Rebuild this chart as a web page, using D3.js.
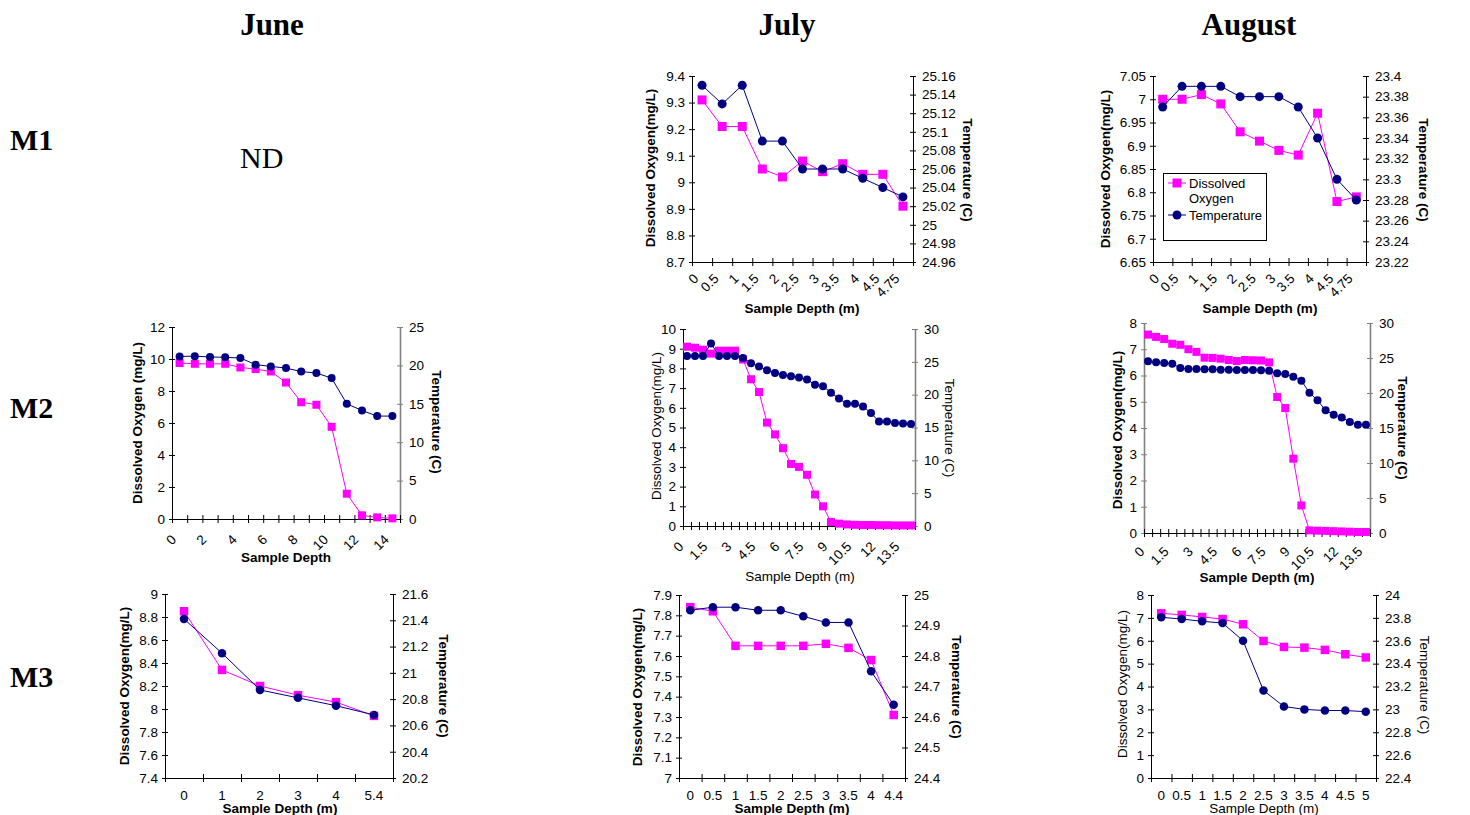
<!DOCTYPE html>
<html><head><meta charset="utf-8">
<script src="https://cdn.jsdelivr.net/npm/d3@7"></script>
<style>
body{margin:0;background:#fff;}
svg{display:block;}
text{font-family:"Liberation Sans",Arial,sans-serif;fill:#000;}
.hdr{font-family:"Liberation Serif","Times New Roman",serif;}
</style></head><body>
<svg id="c" width="1470" height="815"></svg>
<script>
// ---------- DATA ----------
const columnNames = ["June", "July", "August"];
const rowNames = ["M1", "M2", "M3"];

// July M1
const julyM1Depths = ["0","0.5","1","1.5","2","2.5","3","3.5","4","4.5","4.75"];
const julyM1DO = [9.31, 9.21, 9.21, 9.05, 9.02, 9.08, 9.04, 9.07, 9.03, 9.03, 8.91];
const julyM1Temp = [25.15, 25.13, 25.15, 25.09, 25.09, 25.06, 25.06, 25.06, 25.05, 25.04, 25.03];
const julyM1DOTicks = [8.7, 8.8, 8.9, 9, 9.1, 9.2, 9.3, 9.4];
const julyM1TempTicks = [24.96, 24.98, 25, 25.02, 25.04, 25.06, 25.08, 25.1, 25.12, 25.14, 25.16];

// August M1
const augM1Depths = ["0","0.5","1","1.5","2","2.5","3","3.5","4","4.5","4.75"];
const augM1DO = [7.00, 7.00, 7.01, 6.99, 6.93, 6.91, 6.89, 6.88, 6.97, 6.78, 6.79];
const augM1Temp = [23.37, 23.39, 23.39, 23.39, 23.38, 23.38, 23.38, 23.37, 23.34, 23.30, 23.28];
const augM1DOTicks = [6.65, 6.7, 6.75, 6.8, 6.85, 6.9, 6.95, 7, 7.05];
const augM1TempTicks = [23.22, 23.24, 23.26, 23.28, 23.3, 23.32, 23.34, 23.36, 23.38, 23.4];

// June M2
const juneM2Depths = ["0","1","2","3","4","5","6","7","8","9","10","11","12","13","14"];
const juneM2Shown = ["0","2","4","6","8","10","12","14"];
const juneM2DO = [9.75, 9.7, 9.7, 9.7, 9.47, 9.37, 9.22, 8.53, 7.30, 7.14, 5.76, 1.58, 0.23, 0.1, 0.04];
const juneM2Temp = [21.17, 21.2, 21.1, 21.05, 20.96, 20.1, 19.87, 19.65, 19.2, 19.0, 18.35, 15.0, 14.13, 13.4, 13.4];
const juneM2DOTicks = [0, 2, 4, 6, 8, 10, 12];
const juneM2TempTicks = [0, 5, 10, 15, 20, 25];

// July M2
const julyM2Depths = ["0","0.5","1","1.5","2","2.5","3","3.5","4","4.5","5","5.5","6","6.5","7","7.5","8","8.5","9","9.5","10","10.5","11","11.5","12","12.5","13","13.5","14"];
const julyM2Shown = ["0","1.5","3","4.5","6","7.5","9","10.5","12","13.5"];
const julyM2DO = [9.1, 9.05, 8.95, 8.75, 8.9, 8.9, 8.9, 8.45, 7.45, 6.8, 5.25, 4.65, 3.95, 3.15, 3.0, 2.6, 1.6, 1.0, 0.2, 0.12, 0.08, 0.06, 0.05, 0.05, 0.04, 0.04, 0.03, 0.03, 0.03];
const julyM2Temp = [25.9, 25.9, 25.9, 27.8, 25.9, 25.9, 25.9, 25.6, 24.8, 24.3, 23.7, 23.3, 23.0, 22.8, 22.6, 22.3, 21.5, 21.3, 20.3, 19.4, 18.6, 18.6, 18.2, 17.2, 15.9, 15.9, 15.7, 15.6, 15.55];
const julyM2DOTicks = [0, 1, 2, 3, 4, 5, 6, 7, 8, 9, 10];
const julyM2TempTicks = [0, 5, 10, 15, 20, 25, 30];

// August M2
const augM2Depths = ["0","0.5","1","1.5","2","2.5","3","3.5","4","4.5","5","5.5","6","6.5","7","7.5","8","8.5","9","9.5","10","10.5","11","11.5","12","12.5","13","13.5"];
const augM2Shown = ["0","1.5","3","4.5","6","7.5","9","10.5","12","13.5"];
const augM2DO = [7.56, 7.47, 7.39, 7.21, 7.17, 7.0, 6.9, 6.68, 6.67, 6.64, 6.59, 6.55, 6.59, 6.58, 6.57, 6.5, 5.18, 4.76, 2.83, 1.05, 0.1, 0.09, 0.08, 0.07, 0.06, 0.05, 0.04, 0.04];
const augM2Temp = [24.52, 24.38, 24.29, 24.19, 23.57, 23.43, 23.43, 23.38, 23.38, 23.33, 23.33, 23.29, 23.29, 23.29, 23.24, 23.19, 22.81, 22.71, 22.33, 21.76, 20.05, 18.95, 17.52, 16.9, 16.5, 15.86, 15.48, 15.48];
const augM2DOTicks = [0, 1, 2, 3, 4, 5, 6, 7, 8];
const augM2TempTicks = [0, 5, 10, 15, 20, 25, 30];

// June M3
const juneM3Depths = ["0","1","2","3","4","5.4"];
const juneM3DO = [8.85, 8.34, 8.2, 8.12, 8.06, 7.94];
const juneM3Temp = [21.41, 21.15, 20.87, 20.81, 20.75, 20.68];
const juneM3DOTicks = [7.4, 7.6, 7.8, 8, 8.2, 8.4, 8.6, 8.8, 9];
const juneM3TempTicks = [20.2, 20.4, 20.6, 20.8, 21, 21.2, 21.4, 21.6];

// July M3
const julyM3Depths = ["0","0.5","1","1.5","2","2.5","3","3.5","4","4.4"];
const julyM3DO = [7.84, 7.82, 7.65, 7.65, 7.65, 7.65, 7.66, 7.64, 7.58, 7.31];
const julyM3Temp = [24.95, 24.96, 24.96, 24.95, 24.95, 24.93, 24.91, 24.91, 24.75, 24.64];
const julyM3DOTicks = [7, 7.1, 7.2, 7.3, 7.4, 7.5, 7.6, 7.7, 7.8, 7.9];
const julyM3TempTicks = [24.4, 24.5, 24.6, 24.7, 24.8, 24.9, 25];

// August M3
const augM3Depths = ["0","0.5","1","1.5","2","2.5","3","3.5","4","4.5","5"];
const augM3DO = [7.2, 7.13, 7.04, 6.95, 6.72, 5.99, 5.73, 5.70, 5.6, 5.41, 5.27];
const augM3Temp = [23.805, 23.79, 23.77, 23.755, 23.6, 23.165, 23.025, 23.0, 22.99, 22.99, 22.98];
const augM3DOTicks = [0, 1, 2, 3, 4, 5, 6, 7, 8];
const augM3TempTicks = [22.4, 22.6, 22.8, 23, 23.2, 23.4, 23.6, 23.8, 24];

const legendLabels = [["Dissolved", "Oxygen"], ["Temperature"]];
const ndText = "ND";

// ---------- STYLE / LAYOUT ----------
const DO_COLOR = "#FF00FF", T_COLOR = "#000080";
const TICK_FS = 13.5;
const svg = d3.select("#c");

const panels = [
  {cats: julyM1Depths, shown: julyM1Depths, dox: julyM1DO, tmp: julyM1Temp, lTicks: julyM1DOTicks, rTicks: julyM1TempTicks,
   box: [692, 76, 913, 262], rot: true, labOff: 14, bold: true, lTitle: "Dissolved Oxygen(mg/L)", lt: [650, 168], rt: [968, 170], xt: [802, 313], xTitle: "Sample Depth (m)", lCol: "#000", rCol: "#000", ms: 9, legend: false},
  {cats: augM1Depths, shown: augM1Depths, dox: augM1DO, tmp: augM1Temp, lTicks: augM1DOTicks, rTicks: augM1TempTicks,
   box: [1153, 76, 1366, 262], rot: true, labOff: 14, bold: true, lTitle: "Dissolved Oxygen(mg/L)", lt: [1105, 169], rt: [1424, 170], xt: [1260, 313], xTitle: "Sample Depth (m)", lCol: "#000", rCol: "#000", ms: 9, legend: true},
  {cats: juneM2Depths, shown: juneM2Shown, dox: juneM2DO, tmp: juneM2Temp, lTicks: juneM2DOTicks, rTicks: juneM2TempTicks,
   box: [172, 327, 400, 519], rot: true, labOff: 18, bold: true, lTitle: "Dissolved Oxygen (mg/L)", lt: [137, 423], rt: [437, 422], xt: [286, 562], xTitle: "Sample Depth", lCol: "#000", rCol: "#808080", ms: 8, legend: false},
  {cats: julyM2Depths, shown: julyM2Shown, dox: julyM2DO, tmp: julyM2Temp, lTicks: julyM2DOTicks, rTicks: julyM2TempTicks,
   box: [683, 329, 915, 526], rot: true, labOff: 18, bold: false, lTitle: "Dissolved Oxygen(mg/L)", lt: [656, 426], rt: [950, 428], xt: [800, 581], xTitle: "Sample Depth (m)", lCol: "#000", rCol: "#808080", ms: 8, legend: false},
  {cats: augM2Depths, shown: augM2Shown, dox: augM2DO, tmp: augM2Temp, lTicks: augM2DOTicks, rTicks: augM2TempTicks,
   box: [1144, 323, 1370, 533], rot: true, labOff: 16, bold: true, lTitle: "Dissolved Oxygen(mg/L)", lt: [1117, 430], rt: [1403, 428], xt: [1257, 582], xTitle: "Sample Depth (m)", lCol: "#808080", rCol: "#808080", ms: 8, legend: false},
  {cats: juneM3Depths, shown: juneM3Depths, dox: juneM3DO, tmp: juneM3Temp, lTicks: juneM3DOTicks, rTicks: juneM3TempTicks,
   box: [165, 594, 393, 778], rot: false, labOff: 17, bold: true, lTitle: "Dissolved Oxygen(mg/L)", lt: [124, 686], rt: [444, 686], xt: [280, 813], xTitle: "Sample Depth (m)", lCol: "#000", rCol: "#000", ms: 8.5, legend: false},
  {cats: julyM3Depths, shown: julyM3Depths, dox: julyM3DO, tmp: julyM3Temp, lTicks: julyM3DOTicks, rTicks: julyM3TempTicks,
   box: [679, 595, 905, 778], rot: false, labOff: 17, bold: true, lTitle: "Dissolved Oxygen(mg/L)", lt: [637, 687], rt: [957, 687], xt: [792, 813], xTitle: "Sample Depth (m)", lCol: "#000", rCol: "#000", ms: 8.5, legend: false},
  {cats: augM3Depths, shown: augM3Depths, dox: augM3DO, tmp: augM3Temp, lTicks: augM3DOTicks, rTicks: augM3TempTicks,
   box: [1151, 595, 1376, 778], rot: false, labOff: 17, bold: false, lTitle: "Dissolved Oxygen(mg/L)", lt: [1122, 684], rt: [1425, 685], xt: [1264, 813], xTitle: "Sample Depth (m)", lCol: "#000", rCol: "#000", ms: 8.5, legend: false}
];

const fmt = d3.format("~g");

panels.forEach(p => {
  const [x0, y0, x1, y1] = p.box;
  const g = svg.append("g");
  const n = p.cats.length;
  const xBand = d3.scaleBand().domain(p.cats).range([x0, x1]).padding(0);
  const xEdge = d3.scaleLinear().domain([0, n]).range([x0, x1]);
  const yL = d3.scaleLinear().domain(d3.extent(p.lTicks)).range([y1, y0]);
  const yR = d3.scaleLinear().domain(d3.extent(p.rTicks)).range([y1, y0]);
  const cx = i => xBand(p.cats[i]) + xBand.bandwidth() / 2;
  const fw = p.bold ? "bold" : "normal";

  // left axis
  const la = g.append("g").attr("transform", `translate(${x0},0)`)
    .call(d3.axisLeft(yL).tickValues(p.lTicks).tickFormat(fmt).tickSizeInner(3).tickSizeOuter(0).tickPadding(4));
  la.selectAll("line").attr("x1", 3).attr("stroke", p.lCol);
  la.select(".domain").attr("stroke", p.lCol).attr("stroke-width", p.lCol === "#000" ? 1 : 1.6);
  la.selectAll("text").attr("font-size", TICK_FS).attr("font-family", "'Liberation Sans',Arial,sans-serif").attr("fill", "#000");

  // right axis
  const ra = g.append("g").attr("transform", `translate(${x1},0)`)
    .call(d3.axisRight(yR).tickValues(p.rTicks).tickFormat(fmt).tickSizeInner(3).tickSizeOuter(0).tickPadding(6));
  ra.selectAll("line").attr("x1", -3).attr("stroke", p.rCol);
  ra.select(".domain").attr("stroke", p.rCol).attr("stroke-width", p.rCol === "#000" ? 1 : 1.6);
  ra.selectAll("text").attr("font-size", TICK_FS).attr("font-family", "'Liberation Sans',Arial,sans-serif").attr("fill", "#000");

  // bottom axis (tick marks at category boundaries)
  const ba = g.append("g").attr("transform", `translate(0,${y1})`)
    .call(d3.axisBottom(xEdge).tickValues(d3.range(n + 1)).tickFormat("").tickSizeInner(4).tickSizeOuter(0));
  ba.selectAll("line").attr("y1", -4).attr("stroke", "#000");
  ba.select(".domain").attr("stroke", "#000");

  // category labels
  const lab = g.append("g").attr("transform", `translate(0,${y1})`)
    .call(d3.axisBottom(xBand).tickValues(p.shown).tickSize(0));
  lab.select(".domain").remove();
  const lt = lab.selectAll("text").attr("font-size", TICK_FS).attr("font-family", "'Liberation Sans',Arial,sans-serif").attr("fill", "#000");
  if (p.rot) {
    lt.attr("y", 0).attr("dy", "0.35em").attr("text-anchor", "end")
      .attr("transform", `translate(-6,${p.labOff}) rotate(-45)`);
  } else {
    lt.attr("y", p.labOff).attr("dy", "0.35em");
  }

  // series: DO first, temperature on top
  const lineDO = d3.line().x((d, i) => cx(i)).y(d => yL(d));
  const lineT = d3.line().x((d, i) => cx(i)).y(d => yR(d));
  g.append("path").datum(p.dox).attr("d", lineDO).attr("fill", "none").attr("stroke", DO_COLOR).attr("stroke-width", 1);
  g.selectAll(".sq").data(p.dox).enter().append("rect")
    .attr("x", (d, i) => cx(i) - p.ms / 2).attr("y", d => yL(d) - p.ms / 2)
    .attr("width", p.ms).attr("height", p.ms).attr("fill", DO_COLOR);
  g.append("path").datum(p.tmp).attr("d", lineT).attr("fill", "none").attr("stroke", T_COLOR).attr("stroke-width", 1);
  g.selectAll(".ci").data(p.tmp).enter().append("circle")
    .attr("cx", (d, i) => cx(i)).attr("cy", d => yR(d)).attr("r", p.ms / 2).attr("fill", T_COLOR);

  // titles
  g.append("text").attr("transform", `translate(${p.lt[0]},${p.lt[1]}) rotate(-90)`)
    .attr("text-anchor", "middle").attr("dy", "0.35em").attr("font-size", 13.5).attr("font-weight", fw).text(p.lTitle);
  g.append("text").attr("transform", `translate(${p.rt[0]},${p.rt[1]}) rotate(90)`)
    .attr("text-anchor", "middle").attr("dy", "0.35em").attr("font-size", 13.5).attr("font-weight", fw).text("Temperature (C)");
  g.append("text").attr("x", p.xt[0]).attr("y", p.xt[1])
    .attr("text-anchor", "middle").attr("font-size", 13.5).attr("font-weight", fw).text(p.xTitle);

  if (p.legend) {
    const lg = g.append("g");
    lg.append("rect").attr("x", 1163.5).attr("y", 173.5).attr("width", 103).attr("height", 67)
      .attr("fill", "#fff").attr("stroke", "#000").attr("stroke-width", 1);
    lg.append("line").attr("x1", 1168).attr("x2", 1186).attr("y1", 183).attr("y2", 183).attr("stroke", DO_COLOR);
    lg.append("rect").attr("x", 1177 - 4.5).attr("y", 183 - 4.5).attr("width", 9).attr("height", 9).attr("fill", DO_COLOR);
    lg.append("text").attr("x", 1189).attr("y", 183).attr("dy", "0.35em").attr("font-size", 13).text(legendLabels[0][0]);
    lg.append("text").attr("x", 1189).attr("y", 198).attr("dy", "0.35em").attr("font-size", 13).text(legendLabels[0][1]);
    lg.append("line").attr("x1", 1168).attr("x2", 1186).attr("y1", 215).attr("y2", 215).attr("stroke", T_COLOR);
    lg.append("circle").attr("cx", 1177).attr("cy", 215).attr("r", 4.5).attr("fill", T_COLOR);
    lg.append("text").attr("x", 1189).attr("y", 215).attr("dy", "0.35em").attr("font-size", 13).text(legendLabels[1][0]);
  }
});

// headers
const colX = [272, 787, 1249];
svg.selectAll(".col").data(columnNames).enter().append("text").attr("class", "hdr")
  .attr("x", (d, i) => colX[i]).attr("y", 35).attr("text-anchor", "middle")
  .attr("font-size", 31).attr("font-weight", "bold").text(d => d);
const rowY = [150, 418, 687];
svg.selectAll(".row").data(rowNames).enter().append("text").attr("class", "hdr")
  .attr("x", 10).attr("y", (d, i) => rowY[i])
  .attr("font-size", 30).attr("font-weight", "bold").text(d => d);
svg.append("text").attr("class", "hdr").attr("x", 240).attr("y", 168).attr("font-size", 30).text(ndText);
</script>
</body></html>
